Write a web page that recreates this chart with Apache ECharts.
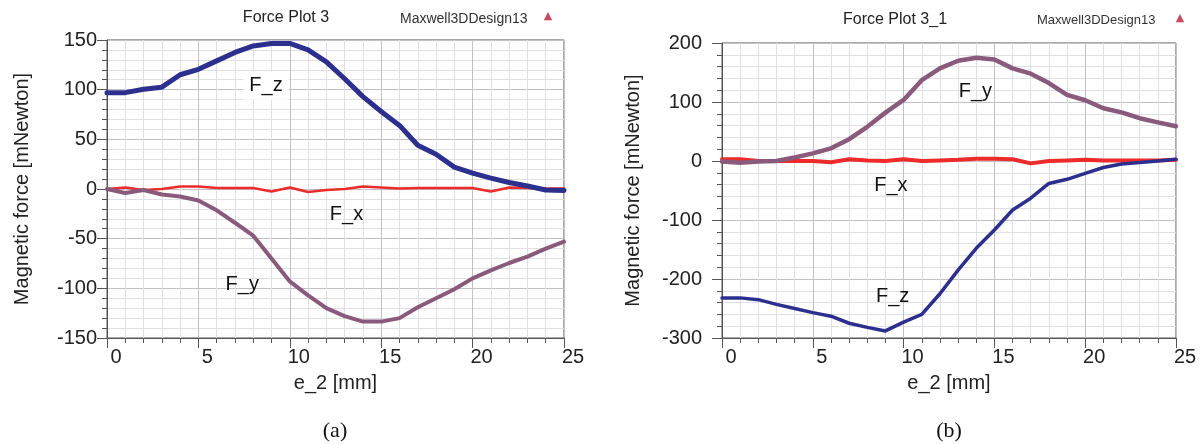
<!DOCTYPE html>
<html>
<head>
<meta charset="utf-8">
<script src="https://cdn.jsdelivr.net/npm/echarts@6/dist/echarts.min.js"></script>
<style>
  html, body { margin: 0; padding: 0; background: #fff; }
  #chart { width: 1203px; height: 444px; }
</style>
</head>
<body>
<div id="chart"></div>
<script>
// Sweep positions e_2 [mm]
const e2 = [0,1,2,3,4,5,6,7,8,9,10,11,12,13,14,15,16,17,18,19,20,21,22,23,24,25];

// Force Plot 3 (mNewton)
const plotA_Fx = [0, 1.5, -1, 0, 2.5, 2.5, 1, 1, 1, -2.5, 1.5, -3, -1, 0, 2.5, 1.5, 0.5, 1, 1, 1, 1, -2.5, 1.5, 1, 0.5, 0.5];
const plotA_Fy = [0, -4, -1, -5.5, -7.5, -11.5, -21.5, -34, -47, -70, -93, -107, -120, -128, -133.5, -133.5, -130, -119, -110, -101, -90, -82, -74.5, -68, -60, -53];
const plotA_Fz = [97, 97, 100.5, 102.5, 115, 120.5, 129, 137.5, 144, 146.5, 146.5, 140, 128, 111, 93, 78, 64, 44, 35, 22, 16, 11, 6.5, 3, -1, -1.5];

// Force Plot 3_1 (mNewton)
const plotB_Fx = [3, 3, 0, 0, 0, 0, -2, 3, 1, 0, 3, 0, 1, 2, 4, 4, 3, -4, 0, 1, 2, 1, 1, 1, 1, 2];
const plotB_Fy = [-1, -3, -1, 0, 6, 13, 21.5, 37, 58, 82, 103.5, 137, 157, 170, 175, 172, 157, 148, 132, 112, 103, 89.5, 82.5, 72.5, 65.5, 59];
const plotB_Fz = [-232, -232, -235, -243, -250, -257, -263, -275, -282, -288, -273, -260, -225, -185, -148, -117, -83, -63, -38, -31, -21, -11, -5, -2.5, 0, 3];

// Axis ranges
const xRange = [0, 25, 5];
const yRangeA = [-150, 150, 50];
const yRangeB = [-300, 200, 100];

const FONT = '"Liberation Sans", Arial, sans-serif';
const C_X = '#ee2b2b';
const C_Y = '#8a5a7c';
const C_Z = '#2d2f8e';

const pairs = (ys) => e2.map((x, i) => [x, ys[i]]);

function xAxisFor(gridIndex) {
  return {
    type: 'value', gridIndex,
    min: xRange[0], max: xRange[1], interval: xRange[2],
    name: 'e_2 [mm]', nameLocation: 'middle', nameGap: 35,
    nameTextStyle: { fontFamily: FONT, fontSize: 20, color: '#222' },
    axisLine: { show: true, onZero: false, lineStyle: { color: '#555', width: 1 } },
    axisTick: { show: true, inside: false, length: 10, lineStyle: { color: '#555' } },
    minorTick: { show: true, splitNumber: 5, length: 5, lineStyle: { color: '#555' } },
    splitLine: { show: true, lineStyle: { color: '#c0c0c6', width: 1 } },
    minorSplitLine: { show: true, lineStyle: { color: '#e0e0e4', width: 1 } },
    axisLabel: { fontFamily: FONT, fontSize: 20, color: '#222', margin: 9, padding: [0, 0, 0, 18] }
  };
}

function yAxisFor(gridIndex, range, gap, margin) {
  return {
    type: 'value', gridIndex,
    min: range[0], max: range[1], interval: range[2],
    name: 'Magnetic force [mNewton]', nameLocation: 'middle', nameGap: gap,
    nameTextStyle: { fontFamily: FONT, fontSize: 20, color: '#222' },
    axisLine: { show: true, onZero: false, lineStyle: { color: '#555', width: 1 } },
    axisTick: { show: true, inside: false, length: 10, lineStyle: { color: '#555' } },
    minorTick: { show: true, splitNumber: 5, length: 5, lineStyle: { color: '#555' } },
    splitLine: { show: true, lineStyle: { color: '#c0c0c6', width: 1 } },
    minorSplitLine: { show: true, lineStyle: { color: '#e0e0e4', width: 1 } },
    axisLabel: { fontFamily: FONT, fontSize: 20, color: '#222', margin }
  };
}

function tag(text, coord, withBox) {
  return {
    symbolSize: 0,
    data: [{ name: text, coord }],
    label: {
      show: true, position: 'inside', formatter: '{b}',
      fontFamily: FONT, fontSize: 20, color: '#111',
      backgroundColor: withBox ? '#ffffff' : 'transparent',
      padding: withBox ? [4, 6, 4, 6] : 0
    },
    emphasis: { disabled: true }
  };
}

function line(name, data, color, width, gi, mark) {
  return {
    type: 'line', name, data,
    xAxisIndex: gi, yAxisIndex: gi,
    showSymbol: false, smooth: false, animation: false,
    lineStyle: { color, width, cap: 'round', join: 'round' },
    markPoint: mark
  };
}

const chart = echarts.init(document.getElementById('chart'), null, { renderer: 'canvas' });

chart.setOption({
  animation: false,
  backgroundColor: '#fff',
  grid: [
    { left: 107, top: 40, width: 457, height: 298, show: true, borderColor: '#555', borderWidth: 1, backgroundColor: 'transparent' },
    { left: 722, top: 43, width: 454, height: 295, show: true, borderColor: '#555', borderWidth: 1, backgroundColor: 'transparent' }
  ],
  xAxis: [xAxisFor(0), xAxisFor(1)],
  yAxis: [yAxisFor(0, yRangeA, 75, 10), yAxisFor(1, yRangeB, 79, 20)],
  series: [
    line('F_x', pairs(plotA_Fx), C_X, 2.5, 0, tag('F_x', [13.1, -26], false)),
    line('F_y', pairs(plotA_Fy), C_Y, 4, 0, tag('F_y', [7.4, -96], false)),
    line('F_z', pairs(plotA_Fz), C_Z, 5, 0, tag('F_z', [8.7, 104], true)),
    line('F_x', pairs(plotB_Fx), C_X, 4, 1, tag('F_x', [9.3, -41], false)),
    line('F_y', pairs(plotB_Fy), C_Y, 4.5, 1, tag('F_y', [13.95, 117], false)),
    line('F_z', pairs(plotB_Fz), C_Z, 3.5, 1, tag('F_z', [9.4, -229], false))
  ],
  graphic: [
    { type: 'text', x: 286, y: 18, style: { text: 'Force Plot 3', font: '16px ' + FONT, fill: '#222', align: 'center', verticalAlign: 'middle' } },
    { type: 'text', x: 400, y: 19, style: { text: 'Maxwell3DDesign13', font: '14px ' + FONT, fill: '#333', align: 'left', verticalAlign: 'middle' } },
    { type: 'text', x: 548, y: 16, style: { text: '\u25B2', font: '11px "DejaVu Sans"', fill: '#c84a60', align: 'center', verticalAlign: 'middle' } },
    { type: 'text', x: 895, y: 20, style: { text: 'Force Plot 3_1', font: '16px ' + FONT, fill: '#222', align: 'center', verticalAlign: 'middle' } },
    { type: 'text', x: 1037, y: 20, style: { text: 'Maxwell3DDesign13', font: '13px ' + FONT, fill: '#333', align: 'left', verticalAlign: 'middle' } },
    { type: 'text', x: 1180, y: 18, style: { text: '\u25B2', font: '11px "DejaVu Sans"', fill: '#c84a60', align: 'center', verticalAlign: 'middle' } },
    { type: 'text', x: 335, y: 431, style: { text: '(a)', font: '22px "Liberation Serif", "Times New Roman", serif', fill: '#111', align: 'center', verticalAlign: 'middle' } },
    { type: 'text', x: 949, y: 431, style: { text: '(b)', font: '22px "Liberation Serif", "Times New Roman", serif', fill: '#111', align: 'center', verticalAlign: 'middle' } }
  ]
});
</script>
</body>
</html>
